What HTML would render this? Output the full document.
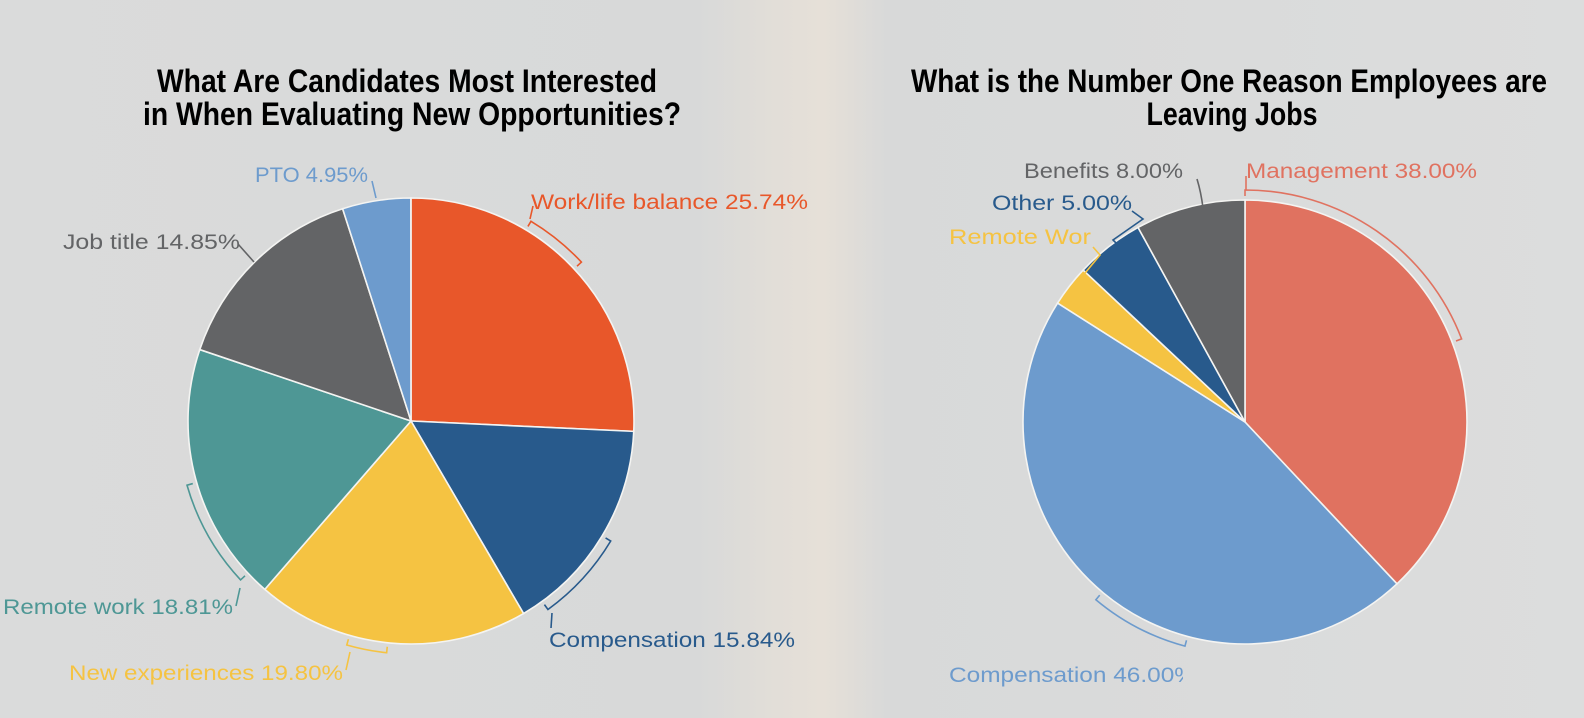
<!DOCTYPE html>
<html><head><meta charset="utf-8">
<style>
html,body{margin:0;padding:0;}
body{width:1584px;height:718px;overflow:hidden;background:#dcdddd;}
svg{display:block;}
</style></head><body>
<svg id="s" width="1584" height="718" xmlns="http://www.w3.org/2000/svg" font-family="'Liberation Sans','DejaVu Sans',sans-serif">
<defs>
<linearGradient id="bg" x1="0" x2="1" y1="0" y2="0">
<stop offset="0" stop-color="#dadbdb"/>
<stop offset="0.44" stop-color="#d8d9d9"/>
<stop offset="0.49" stop-color="#e2ded8"/>
<stop offset="0.52" stop-color="#e6e0d8"/>
<stop offset="0.56" stop-color="#d8d9d9"/>
<stop offset="1" stop-color="#dcdddd"/>
</linearGradient>
<clipPath id="cl"><rect x="900" y="640" width="283" height="60"/></clipPath>
</defs>
<rect width="1584" height="718" fill="url(#bg)"/>
<g id="pies"></g>
<g font-weight="bold" fill="#000" font-size="32" text-anchor="middle">
<text x="407" y="92" textLength="500" lengthAdjust="spacingAndGlyphs">What Are Candidates Most Interested</text>
<text x="412" y="125" textLength="538" lengthAdjust="spacingAndGlyphs">in When Evaluating New Opportunities?</text>
<text x="1229" y="92" textLength="636" lengthAdjust="spacingAndGlyphs">What is the Number One Reason Employees are</text>
<text x="1232" y="125" textLength="171" lengthAdjust="spacingAndGlyphs">Leaving Jobs</text>
</g>
<g font-size="21" lengthAdjust="spacingAndGlyphs">
<text x="531" y="209" fill="#e8572a" textLength="277" lengthAdjust="spacingAndGlyphs">Work/life balance 25.74%</text>
<text x="255" y="182" fill="#6d9bcd" textLength="113" lengthAdjust="spacingAndGlyphs">PTO 4.95%</text>
<text x="63" y="249" fill="#636466" textLength="177" lengthAdjust="spacingAndGlyphs">Job title 14.85%</text>
<text x="3" y="614" fill="#4e9795" textLength="230" lengthAdjust="spacingAndGlyphs">Remote work 18.81%</text>
<text x="69" y="680" fill="#f5c342" textLength="274" lengthAdjust="spacingAndGlyphs">New experiences 19.80%</text>
<text x="549" y="647" fill="#285a8c" textLength="246" lengthAdjust="spacingAndGlyphs">Compensation 15.84%</text>
<text x="1024" y="178" fill="#636466" textLength="159" lengthAdjust="spacingAndGlyphs">Benefits 8.00%</text>
<text x="1246" y="178" fill="#e07260" textLength="231" lengthAdjust="spacingAndGlyphs">Management 38.00%</text>
<text x="992" y="210" fill="#285a8c" textLength="140" lengthAdjust="spacingAndGlyphs">Other 5.00%</text>
<text x="949" y="244" fill="#f5c342" textLength="142" lengthAdjust="spacingAndGlyphs">Remote Wor</text>
<g clip-path="url(#cl)"><text x="949" y="682" fill="#6d9bcd" textLength="247" lengthAdjust="spacingAndGlyphs">Compensation 46.00%</text></g>
</g>
</svg>
<script>
var g=document.getElementById('pies');
var ns='http://www.w3.org/2000/svg';
function pt(cx,cy,r,a){var t=a*Math.PI/180;return [cx+r*Math.sin(t),cy-r*Math.cos(t)];}
function add(tag,attrs){var e=document.createElementNS(ns,tag);for(var k in attrs)e.setAttribute(k,attrs[k]);g.appendChild(e);return e;}
function pie(cx,cy,r,data){var a=0;data.forEach(function(d){var b=a+d[0]*3.6;var p1=pt(cx,cy,r,a),p2=pt(cx,cy,r,b);
add('path',{d:'M'+cx+','+cy+'L'+p1[0]+','+p1[1]+'A'+r+','+r+' 0 '+((b-a)>180?1:0)+' 1 '+p2[0]+','+p2[1]+'Z',fill:d[1],stroke:'#f4f4f2','stroke-width':1.6});a=b;});}
function br(cx,cy,R,a1,a2,col,lead){var p1=pt(cx,cy,R,a1),p2=pt(cx,cy,R,a2),q1=pt(cx,cy,R-6,a1),q2=pt(cx,cy,R-6,a2);
var d='M'+q1[0]+','+q1[1]+'L'+p1[0]+','+p1[1]+'A'+R+','+R+' 0 0 1 '+p2[0]+','+p2[1]+'L'+q2[0]+','+q2[1];
add('path',{d:d,fill:'none',stroke:col,'stroke-width':1.6});
if(lead)add('path',{d:lead,fill:'none',stroke:col,'stroke-width':1.6});}
pie(411,421,223,[[25.74,'#e8572a'],[15.84,'#285a8c'],[19.80,'#f5c342'],[18.81,'#4e9795'],[14.85,'#636466'],[4.95,'#6d9bcd']]);
pie(1245,422,222,[[38,'#e07260'],[46,'#6d9bcd'],[3,'#f5c342'],[5,'#285a8c'],[8,'#636466']]);
br(411,421,233,31,47,'#e8572a','M530,219L533,206');
br(411,421,233,121,144,'#285a8c','M552,613L551,628');
br(411,421,233,186,196,'#f5c342','M350,652L346,670');
br(411,421,233,227,254,'#4e9795','M240,588L236,606');
add('path',{d:'M238,244L254,262',fill:'none',stroke:'#636466','stroke-width':1.6});
add('path',{d:'M372,181L376,198',fill:'none',stroke:'#6d9bcd','stroke-width':1.6});
br(1245,422,232,0,69,'#e07260','M1246,190L1246,176');
br(1245,422,232,195,220,'#6d9bcd',null);
add('path',{d:'M1093,247L1100,255L1076,284L1074,289',fill:'none',stroke:'#f5c342','stroke-width':1.6});
add('path',{d:'M1132,211L1143,219L1113,240L1119,246',fill:'none',stroke:'#285a8c','stroke-width':1.6});
add('path',{d:'M1197,179Q1201,192 1203,208',fill:'none',stroke:'#636466','stroke-width':1.6});
</script>
</body></html>
